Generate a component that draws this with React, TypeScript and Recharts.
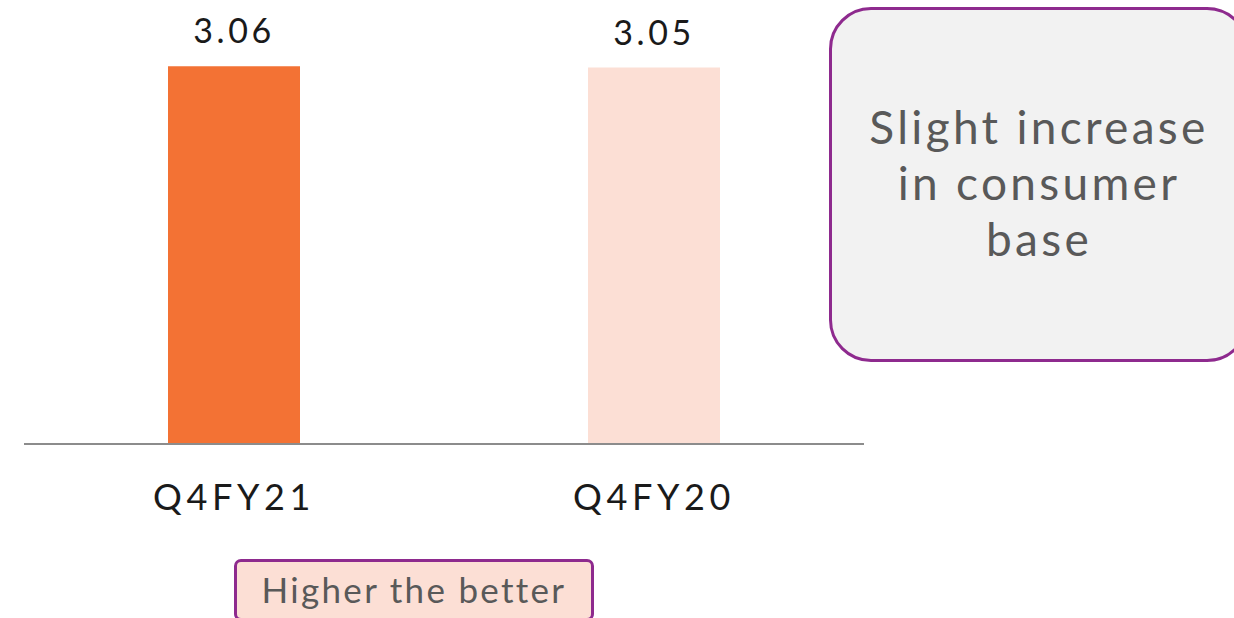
import { BarChart, Bar, XAxis, YAxis, Cell, LabelList } from "recharts";

const categories = ["Q4FY21", "Q4FY20"];
const values = [3.06, 3.05];
const noteLines = ["Slight increase", "in consumer", "base"];
const footnote = "Higher the better";

const BAR_COLORS = ["#F37234", "#FCDFD5"];
const FONT = "Lato, 'Open Sans', sans-serif";
const PURPLE = "#8E2A8E";

const data = categories.map((name, i) => ({ name, value: values[i] }));

function CategoryTick({ x, y, payload }: { x?: number; y?: number; payload?: { value: string } }) {
  return (
    <text
      x={x}
      y={(y ?? 0) + 66}
      textAnchor="middle"
      fontFamily={FONT}
      fontSize={36}
      letterSpacing={4.6}
      fill="#1a1a1a"
    >
      {payload?.value}
    </text>
  );
}

export default function App() {
  return (
    <div
      style={{
        position: "fixed",
        left: 0,
        top: 0,
        width: 1234,
        height: 618,
        overflow: "hidden",
        background: "#fff",
        fontFamily: FONT,
      }}
    >
      <BarChart
        width={1234}
        height={618}
        data={data}
        margin={{ top: 12, right: 370, left: 24, bottom: 114 }}
      >
        <XAxis
          dataKey="name"
          height={60}
          stroke="#8c8c8c"
          strokeWidth={2}
          tickLine={false}
          tickSize={0}
          tickMargin={0}
          tick={<CategoryTick />}
        />
        <YAxis hide domain={[0, 3.5]} />
        <Bar dataKey="value" barSize={132} isAnimationActive={false}>
          {data.map((d, i) => (
            <Cell key={d.name} fill={BAR_COLORS[i]} />
          ))}
          <LabelList
            dataKey="value"
            position="top"
            offset={23}
            fontFamily={FONT}
            fontSize={34}
            letterSpacing={3.6}
            fill="#1a1a1a"
            formatter={(v: number) => v.toFixed(2)}
          />
        </Bar>
      </BarChart>

      <div
        style={{
          position: "absolute",
          left: 829,
          top: 7,
          width: 414,
          height: 349,
          border: `3px solid ${PURPLE}`,
          borderRadius: 42,
          background: "#F2F2F2",
          color: "#595959",
          fontSize: 46,
          lineHeight: "56px",
          textAlign: "center",
        }}
      >
        <div style={{ paddingTop: 89, letterSpacing: 3.3 }}>
          {noteLines.map((l) => (
            <div key={l}>{l}</div>
          ))}
        </div>
      </div>

      <div
        style={{
          position: "absolute",
          left: 234,
          top: 559,
          width: 354,
          height: 56,
          border: `3px solid ${PURPLE}`,
          borderRadius: 7,
          background: "#FCDFD5",
          color: "#595959",
          fontSize: 35,
          lineHeight: "54px",
          textAlign: "center",
          letterSpacing: 2.3,
        }}
      >
        {footnote}
      </div>
    </div>
  );
}
